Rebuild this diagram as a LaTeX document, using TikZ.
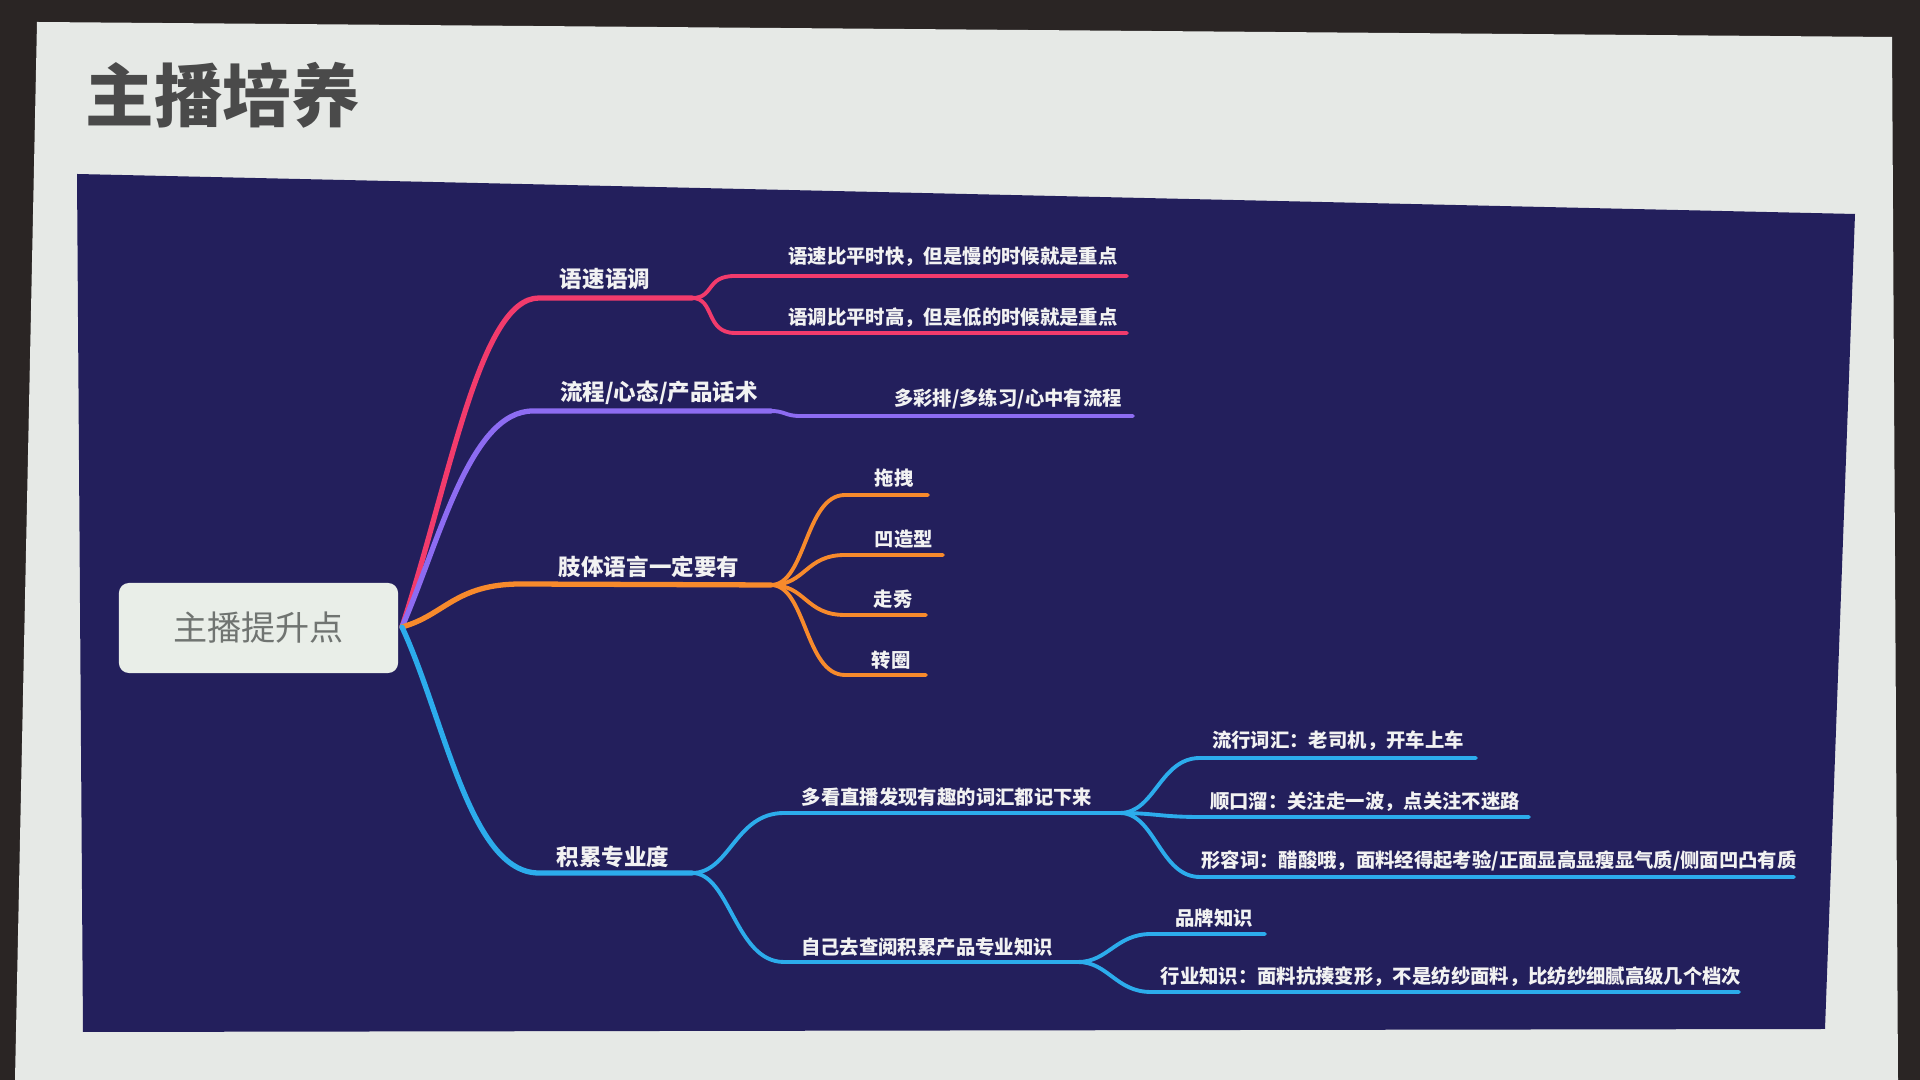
\documentclass[tikz,border=0pt]{standalone}
\usepackage{fontspec}
\setmainfont{Noto Sans CJK SC}
\definecolor{framedark}{HTML}{2A2524}
\definecolor{slidewhite}{HTML}{E6E9E6}
\definecolor{panelblue}{HTML}{231F5C}
\definecolor{pinkc}{HTML}{F23B6C}
\definecolor{purplec}{HTML}{8D6CF2}
\definecolor{orangec}{HTML}{F78A2C}
\definecolor{bluec}{HTML}{2CACEC}
\definecolor{titlegrey}{HTML}{4A4A4A}
\definecolor{rootfill}{HTML}{E9EEE8}
\definecolor{roottext}{HTML}{707471}
\definecolor{labelwhite}{HTML}{F2F2F2}
\begin{document}
\begin{tikzpicture}[x=0.01cm,y=-0.01cm,
  lab/.style={text=labelwhite,font=\bfseries\fontsize{5.5pt}{6pt}\selectfont,inner sep=0pt},
  blab/.style={text=labelwhite,font=\bfseries\fontsize{6.4pt}{7pt}\selectfont,inner sep=0pt},
  mainline/.style={line width=1.5pt,line cap=round},
  subline/.style={line width=1.1pt,line cap=round}]
\useasboundingbox (0,0) rectangle (1920,1080);
\fill[framedark] (0,0) rectangle (1920,1080);
\fill[slidewhite] (37,22) -- (1892,37) -- (1898,1080) -- (15,1080) -- cycle;
\fill[panelblue] (77,174) -- (1855,214) -- (1825,1029) -- (83,1032) -- cycle;
% title
\node[text=titlegrey,font=\bfseries\fontsize{19.5pt}{20pt}\selectfont,inner sep=0pt] (title) at (223,95) {主播培养};
% root
\node[fill=rootfill,rounded corners=0.1cm,minimum width=2.79cm,minimum height=0.9cm,text=roottext,font=\fontsize{9.7pt}{10pt}\selectfont] (root) at (258.5,628) {主播提升点};
\coordinate (r) at (402,627);
% coordinates
\coordinate (b1s) at (539,298); \coordinate (b1e) at (692,298);
\coordinate (p1s) at (735,276); \coordinate (p1e) at (1127,276);
\coordinate (p2s) at (735,333); \coordinate (p2e) at (1127,333);
\coordinate (b2s) at (533,411); \coordinate (b2e) at (771,411);
\coordinate (u1s) at (800,416); \coordinate (u1e) at (1133,416);
\coordinate (b3s) at (521,584); \coordinate (b3e) at (771,585);
\coordinate (o1s) at (845,495); \coordinate (o1e) at (928,495);
\coordinate (o2s) at (845,555); \coordinate (o2e) at (943,555);
\coordinate (o3s) at (845,615); \coordinate (o3e) at (926,615);
\coordinate (o4s) at (845,675); \coordinate (o4e) at (926,675);
\coordinate (b4s) at (539,873); \coordinate (b4e) at (692,873);
\coordinate (as) at (784,813); \coordinate (ae) at (1120,813);
\coordinate (bs) at (784,962); \coordinate (be) at (1078,962);
\coordinate (a1s) at (1200,758); \coordinate (a1e) at (1476,758);
\coordinate (a2s) at (1200,817); \coordinate (a2e) at (1529,817);
\coordinate (a3s) at (1200,877); \coordinate (a3e) at (1794,877);
\coordinate (c1s) at (1151,934); \coordinate (c1e) at (1265,934);
\coordinate (c2s) at (1151,992); \coordinate (c2e) at (1739,992);
% pink branch
\draw[pinkc,mainline] (r) .. controls (450,480) and (480,298) .. (b1s) -- (b1e);
\draw[pinkc,subline] (b1e) .. controls (715,298) and (705,276) .. (p1s) -- (p1e);
\draw[pinkc,subline] (b1e) .. controls (715,298) and (705,333) .. (p2s) -- (p2e);
% purple branch
\draw[purplec,mainline] (r) .. controls (440,540) and (470,411) .. (b2s) -- (b2e);
\draw[purplec,subline] (b2e) .. controls (785,411) and (785,416) .. (u1s) -- (u1e);
% orange branch
\draw[orangec,mainline] (r) .. controls (445,615) and (455,584) .. (b3s) -- (b3e);
\foreach \k in {o1,o2,o3,o4}{
  \draw[orangec,subline] (b3e) .. controls ([xshift=0.35cm]b3e) and ([xshift=-0.4cm]\k s) .. (\k s) -- (\k e);
}
% blue branch
\draw[bluec,mainline] (r) .. controls (445,720) and (470,873) .. (b4s) -- (b4e);
\draw[bluec,subline] (b4e) .. controls (730,873) and (735,813) .. (as) -- (ae);
\draw[bluec,subline] (b4e) .. controls (730,873) and (735,962) .. (bs) -- (be);
\foreach \k in {a1,a2,a3}{
  \draw[bluec,subline] (ae) .. controls ([xshift=0.35cm]ae) and ([xshift=-0.4cm]\k s) .. (\k s) -- (\k e);
}
\foreach \k in {c1,c2}{
  \draw[bluec,subline] (be) .. controls ([xshift=0.3cm]be) and ([xshift=-0.35cm]\k s) .. (\k s) -- (\k e);
}
% labels
\node[blab] (l1) at (605,279) {语速语调};
\node[lab] (l11) at (953,257) {语速比平时快，但是慢的时候就是重点};
\node[lab] (l12) at (953,318) {语调比平时高，但是低的时候就是重点};
\node[blab] (l2) at (659,393) {流程/心态/产品话术};
\node[lab] (l21) at (1008,399) {多彩排/多练习/心中有流程};
\node[blab] (l3) at (649,567) {肢体语言一定要有};
\node[lab] (l31) at (894,478) {拖拽};
\node[lab] (l32) at (904,539) {凹造型};
\node[lab] (l33) at (893,599) {走秀};
\node[lab] (l34) at (891,660) {转圈};
\node[blab] (l4) at (613,857) {积累专业度};
\node[lab] (l41) at (947,797) {多看直播发现有趣的词汇都记下来};
\node[lab] (l42) at (927,947) {自己去查阅积累产品专业知识};
\node[lab] (l411) at (1338,741) {流行词汇：老司机，开车上车};
\node[lab] (l412) at (1365,802) {顺口溜：关注走一波，点关注不迷路};
\node[lab] (l413) at (1499,861) {形容词：醋酸哦，面料经得起考验/正面显高显瘦显气质/侧面凹凸有质};
\node[lab] (l421) at (1214,918) {品牌知识};
\node[lab] (l422) at (1451,977) {行业知识：面料抗揍变形，不是纺纱面料，比纺纱细腻高级几个档次};
\end{tikzpicture}
\end{document}
